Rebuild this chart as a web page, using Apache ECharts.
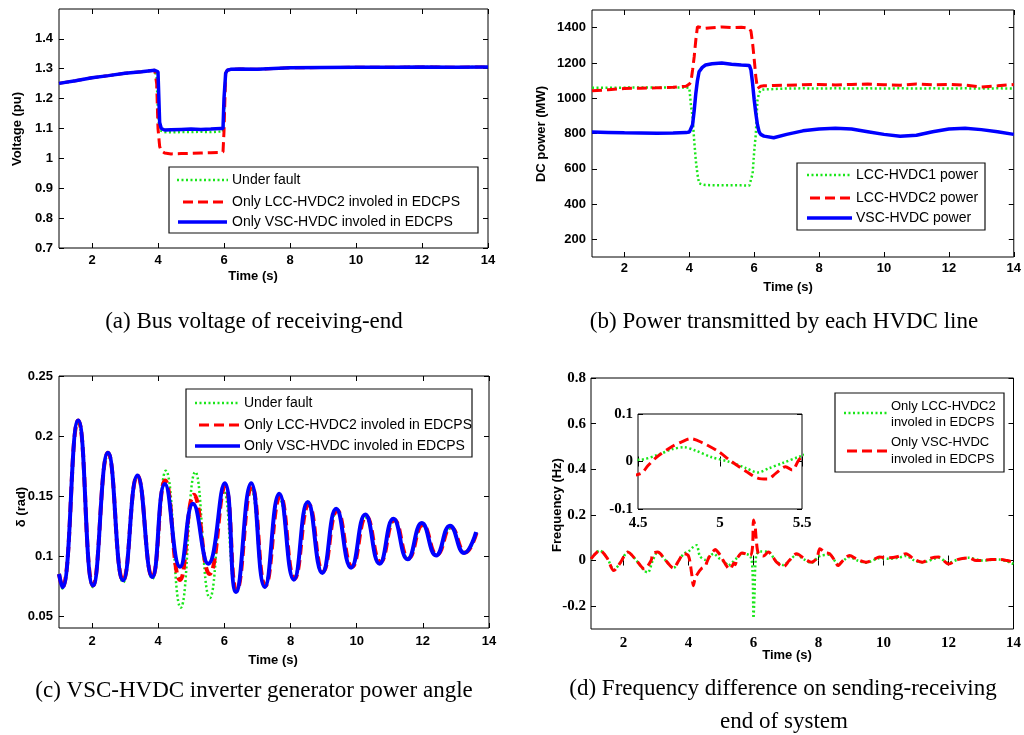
<!DOCTYPE html>
<html>
<head>
<meta charset="utf-8">
<script src="https://cdn.jsdelivr.net/npm/echarts@6/dist/echarts.min.js"></script>
<style>
html, body { margin: 0; padding: 0; background: #fff; }
#main { width: 1024px; height: 735px; }
</style>
</head>
<body>
<div id="main"></div>
<script>
// (a) bus voltage of receiving-end
var voltTime = [1, 1.5, 2, 2.5, 3, 3.5, 3.9, 3.96, 4.0, 4.05, 4.1, 4.2, 4.4, 4.7, 5.0, 5.3, 5.6, 5.9, 5.97, 6.0, 6.05, 6.1, 6.2, 6.5, 7, 7.5, 8, 9, 10, 11, 12, 13, 14];
var voltFault = [1.251, 1.26, 1.27, 1.277, 1.285, 1.29, 1.295, 1.27, 1.15, 1.095, 1.09, 1.088, 1.087, 1.088, 1.088, 1.089, 1.088, 1.09, 1.09, 1.15, 1.285, 1.295, 1.298, 1.299, 1.298, 1.301, 1.303, 1.304, 1.305, 1.305, 1.306, 1.305, 1.306];
var voltLcc2 = [1.251, 1.26, 1.27, 1.277, 1.285, 1.29, 1.295, 1.25, 1.10, 1.04, 1.025, 1.018, 1.015, 1.016, 1.017, 1.018, 1.019, 1.02, 1.022, 1.09, 1.285, 1.295, 1.298, 1.299, 1.298, 1.301, 1.303, 1.304, 1.305, 1.305, 1.306, 1.305, 1.306];
var voltVsc = [1.251, 1.26, 1.27, 1.277, 1.285, 1.29, 1.295, 1.296, 1.29, 1.12, 1.10, 1.095, 1.096, 1.097, 1.098, 1.097, 1.098, 1.10, 1.10, 1.20, 1.285, 1.295, 1.298, 1.299, 1.298, 1.301, 1.303, 1.304, 1.305, 1.305, 1.306, 1.305, 1.306];

// (b) power of each HVDC line
var powerTime = [1, 1.5, 2, 2.5, 3, 3.5, 3.9, 4.0, 4.05, 4.1, 4.15, 4.2, 4.25, 4.3, 4.4, 4.5, 4.7, 5.0, 5.3, 5.6, 5.85, 5.9, 5.95, 6.0, 6.05, 6.1, 6.15, 6.2, 6.3, 6.6, 7.0, 7.5, 8.0, 8.5, 9.0, 9.5, 10.0, 10.5, 11.0, 11.5, 12.0, 12.5, 13.0, 13.5, 14.0];
var powerLcc1 = [1060, 1060, 1060, 1061, 1060, 1061, 1061, 1058, 960, 894, 760, 647, 570, 518, 511, 508, 507, 506, 506, 506, 505, 508, 572, 700, 799, 989, 1030, 1045, 1050, 1052, 1055, 1056, 1055, 1056, 1055, 1056, 1055, 1056, 1055, 1056, 1055, 1056, 1055, 1056, 1055];
var powerLcc2 = [1042, 1048, 1055, 1057, 1059, 1062, 1068, 1080, 1093, 1160, 1235, 1330, 1406, 1410, 1398, 1396, 1400, 1404, 1400, 1402, 1396, 1380, 1311, 1220, 1121, 1055, 1062, 1068, 1070, 1072, 1074, 1076, 1078, 1075, 1078, 1080, 1076, 1074, 1080, 1076, 1078, 1074, 1064, 1070, 1078];
var powerVsc = [808, 806, 804, 803, 802, 803, 805, 808, 815, 850, 930, 1027, 1100, 1150, 1175, 1188, 1195, 1200, 1193, 1188, 1186, 1160, 1083, 990, 913, 850, 810, 795, 785, 776, 795, 815, 826, 830, 825, 810, 795, 784, 790, 810, 825, 830, 822, 810, 795];

// (c) inverter generator power angle (peaks and troughs)
var angleFaultTime = [1.0, 1.10, 1.58, 2.03, 2.48, 2.94, 3.37, 3.82, 4.23, 4.68, 5.12, 5.56, 5.98, 6.35, 6.80, 7.22, 7.66, 8.10, 8.53, 8.97, 9.40, 9.84, 10.27, 10.70, 11.13, 11.56, 11.99, 12.42, 12.84, 13.27, 13.63];
var angleFault = [0.085, 0.073, 0.211, 0.074, 0.184, 0.078, 0.166, 0.081, 0.171, 0.057, 0.170, 0.065, 0.155, 0.072, 0.156, 0.076, 0.148, 0.082, 0.142, 0.087, 0.137, 0.091, 0.132, 0.095, 0.129, 0.098, 0.125, 0.101, 0.123, 0.103, 0.119];
var angleLccTime = [1.0, 1.10, 1.58, 2.03, 2.48, 2.94, 3.37, 3.82, 4.21, 4.66, 5.08, 5.55, 6.02, 6.37, 6.83, 7.24, 7.69, 8.12, 8.55, 8.98, 9.41, 9.86, 10.29, 10.72, 11.14, 11.57, 12.0, 12.43, 12.85, 13.28, 13.63];
var angleLcc = [0.085, 0.074, 0.213, 0.0755, 0.186, 0.0797, 0.167, 0.0825, 0.163, 0.080, 0.151, 0.085, 0.158, 0.071, 0.158, 0.075, 0.150, 0.081, 0.143, 0.087, 0.138, 0.091, 0.133, 0.095, 0.130, 0.098, 0.126, 0.101, 0.124, 0.103, 0.12];
var angleVscTime = [1.0, 1.10, 1.58, 2.03, 2.48, 2.94, 3.37, 3.82, 4.20, 4.66, 5.05, 5.51, 6.01, 6.35, 6.81, 7.22, 7.66, 8.10, 8.52, 8.96, 9.38, 9.83, 10.26, 10.69, 11.11, 11.54, 11.97, 12.40, 12.82, 13.25, 13.61];
var angleVsc = [0.085, 0.074, 0.213, 0.0755, 0.186, 0.0797, 0.167, 0.0825, 0.160, 0.091, 0.1435, 0.0936, 0.1607, 0.070, 0.1607, 0.0742, 0.1518, 0.0803, 0.1449, 0.0859, 0.1393, 0.0903, 0.1346, 0.0936, 0.131, 0.0972, 0.1274, 0.1005, 0.1252, 0.1024, 0.12];

// (d) frequency difference sending-receiving
var freqLccTime = [1.0, 1.27, 1.5, 1.70, 1.9, 2.13, 2.4, 2.64, 2.75, 2.9, 3.05, 3.3, 3.54, 3.7, 3.86, 4.0, 4.15, 4.25, 4.35, 4.51, 4.62, 4.71, 4.78, 4.85, 4.95, 5.05, 5.16, 5.23, 5.30, 5.38, 5.49, 5.65, 5.9, 5.97, 6.0, 6.03, 6.08, 6.2, 6.46, 6.71, 6.92, 7.1, 7.33, 7.55, 7.78, 8.04, 8.34, 8.6, 8.95, 9.2, 9.46, 9.87, 10.18, 10.45, 10.69, 10.95, 11.2, 11.7, 12.0, 12.3, 12.62, 13.03, 13.54, 14.0];
var freqLcc = [0.007, 0.044, 0.01, -0.04, -0.01, 0.037, 0.0, -0.045, -0.052, 0.0, 0.037, 0.0, -0.033, 0.0, 0.03, 0.04, 0.06, 0.067, 0.02, 0.0035, 0.014, 0.026, 0.03, 0.023, 0.009, 0.0, -0.014, -0.023, -0.014, -0.0035, 0.011, 0.03, 0.02, -0.05, -0.252, -0.15, 0.02, 0.04, 0.037, -0.005, -0.02, 0.0, 0.025, 0.005, -0.01, 0.02, 0.025, -0.015, 0.015, 0.0, -0.01, 0.01, 0.008, 0.012, 0.02, 0.0, -0.008, 0.012, -0.01, 0.005, 0.012, 0.0, 0.005, -0.015];
var freqVscTime = [1.0, 1.27, 1.5, 1.70, 1.9, 2.13, 2.4, 2.64, 2.85, 2.9, 3.05, 3.3, 3.54, 3.7, 3.86, 4.0, 4.1, 4.15, 4.2, 4.27, 4.4, 4.52, 4.56, 4.62, 4.71, 4.77, 4.82, 4.89, 4.99, 5.07, 5.16, 5.23, 5.29, 5.34, 5.40, 5.44, 5.49, 5.65, 5.9, 5.97, 6.0, 6.05, 6.08, 6.15, 6.3, 6.46, 6.6, 6.71, 6.92, 7.1, 7.33, 7.55, 7.78, 7.95, 8.04, 8.2, 8.34, 8.5, 8.6, 8.75, 8.95, 9.2, 9.46, 9.7, 9.87, 10.18, 10.45, 10.69, 10.95, 11.2, 11.45, 11.7, 12.0, 12.3, 12.62, 12.85, 13.03, 13.3, 13.54, 13.8, 14.0];
var freqVsc = [0.007, 0.044, 0.01, -0.044, -0.01, 0.037, 0.0, -0.037, 0.0, 0.03, 0.037, 0.0, -0.033, 0.0, 0.03, 0.02, -0.06, -0.11, -0.08, -0.06, -0.035, -0.025, -0.009, 0.011, 0.032, 0.042, 0.048, 0.04, 0.021, 0.0, -0.021, -0.035, -0.037, -0.025, -0.011, -0.018, 0.007, 0.033, 0.022, 0.06, 0.178, 0.15, 0.10, 0.03, 0.02, 0.037, 0.015, -0.007, -0.027, 0.0, 0.03, 0.01, -0.007, 0.01, 0.052, 0.035, 0.03, 0.0, -0.022, 0.0, 0.022, 0.005, -0.007, 0.005, 0.015, 0.012, 0.018, 0.03, 0.005, -0.007, 0.01, 0.015, -0.015, 0.005, 0.012, 0.0, 0.0, 0.005, 0.005, 0.0, -0.007];

// tick labels
var timeTicks = [2, 4, 6, 8, 10, 12, 14];
var voltTicks = [0.7, 0.8, 0.9, 1, 1.1, 1.2, 1.3, 1.4];
var powerTicks = [200, 400, 600, 800, 1000, 1200, 1400];
var angleTicks = [0.05, 0.1, 0.15, 0.2, 0.25];
var freqTicks = [-0.2, 0, 0.2, 0.4, 0.6, 0.8];
var insetTimeTicks = [4.5, 5, 5.5];
var insetFreqTicks = [-0.1, 0, 0.1];

var GREEN = '#19e619', RED = '#ff0000', BLUE = '#0000ff';
var SANS = 'Liberation Sans', SERIF = 'Liberation Serif';

function pairs(xs, ys) {
	return xs.map(function(x, i) { return [x, ys[i]]; });
}

var grids = [
	{left: 59, top: 9, width: 429, height: 239},
	{left: 592, top: 10, width: 425, height: 247},
	{left: 59, top: 376, width: 430, height: 252},
	{left: 591, top: 378, width: 426, height: 251},
	{left: 638, top: 414, width: 164, height: 95}
];
grids.forEach(function(g) {
	g.show = true;
	g.borderColor = '#000';
	g.borderWidth = 1;
	g.backgroundColor = '#fff';
});

var xAxes = [], yAxes = [];

// one labelled axis + one mirror axis with inside ticks only (matlab box)
function addAxes(list, dim, g, min, max, ticks, font, size, margin) {
	var pos = dim == 'x' ? ['bottom', 'top'] : ['left', 'right'];
	pos.forEach(function(p, k) {
		list.push({
			type: 'value', gridIndex: g, min: min, max: max, position: p,
			axisLine: {show: false},
			splitLine: {show: false},
			axisTick: {inside: true, length: 5, customValues: ticks, lineStyle: {color: '#000', width: 1}},
			axisLabel: {
				show: k == 0, customValues: ticks, color: '#000', margin: margin,
				fontFamily: font, fontWeight: 'bold', fontSize: size,
				formatter: function(v) { return String(v); }
			}
		});
	});
}

addAxes(xAxes, 'x', 0, 1, 14, timeTicks, SANS, 13, 6);
addAxes(yAxes, 'y', 0, 0.7, 1.5, voltTicks, SANS, 13, 6);
addAxes(xAxes, 'x', 1, 1, 14, timeTicks, SANS, 13, 5);
addAxes(yAxes, 'y', 1, 100, 1500, powerTicks, SANS, 13, 6);
addAxes(xAxes, 'x', 2, 1, 14, timeTicks, SANS, 13, 7);
addAxes(yAxes, 'y', 2, 0.04, 0.25, angleTicks, SANS, 13, 6);
addAxes(xAxes, 'x', 3, 1, 14, timeTicks, SERIF, 15, 7);
addAxes(yAxes, 'y', 3, -0.3, 0.8, freqTicks, SERIF, 15, 5);
addAxes(xAxes, 'x', 4, 4.5, 5.5, insetTimeTicks, SERIF, 15, 7);
addAxes(yAxes, 'y', 4, -0.1, 0.1, insetFreqTicks, SERIF, 15, 5);

var styles = {
	green: {color: GREEN, width: 2.5, type: [2, 2.5]},
	red: {color: RED, width: 3, type: [10, 5]},
	blue: {color: BLUE, width: 3.5, type: 'solid'}
};

function line(name, data, g, st, extra) {
	var s = {
		name: name, type: 'line', xAxisIndex: 2 * g, yAxisIndex: 2 * g,
		data: data, showSymbol: false, symbol: 'none',
		lineStyle: {color: st.color, width: st.width, type: st.type},
		itemStyle: {color: st.color}
	};
	for (var k in extra) s[k] = extra[k];
	return s;
}

var series = [
	line('Under fault', pairs(voltTime, voltFault), 0, styles.green),
	line('Only LCC-HVDC2 involed in EDCPS', pairs(voltTime, voltLcc2), 0, styles.red),
	line('Only VSC-HVDC involed in EDCPS', pairs(voltTime, voltVsc), 0, styles.blue),

	line('LCC-HVDC1 power', pairs(powerTime, powerLcc1), 1, styles.green),
	line('LCC-HVDC2 power', pairs(powerTime, powerLcc2), 1, styles.red),
	line('VSC-HVDC power', pairs(powerTime, powerVsc), 1, styles.blue),

	line('Under fault', pairs(angleFaultTime, angleFault), 2, styles.green, {smooth: 0.5}),
	line('Only LCC-HVDC2 involed in EDCPS', pairs(angleLccTime, angleLcc), 2, {color: RED, width: 4, type: [10, 5]}, {smooth: 0.5}),
	line('Only VSC-HVDC involed in EDCPS', pairs(angleVscTime, angleVsc), 2, {color: BLUE, width: 4, type: 'solid'}, {smooth: 0.5}),

	line('Only LCC-HVDC2 involed in EDCPS', pairs(freqLccTime, freqLcc), 3, styles.green, {smooth: 0.3}),
	line('Only VSC-HVDC involed in EDCPS', pairs(freqVscTime, freqVsc), 3, styles.red, {smooth: 0.3}),

	// inset: same data zoomed into 4.5 - 5.5 s
	line('inset LCC', pairs(freqLccTime, freqLcc), 4, styles.green, {smooth: 0.3, z: 5}),
	line('inset VSC', pairs(freqVscTime, freqVsc), 4, styles.red, {smooth: 0.3, z: 5})
];

// ---- texts, legends, captions ----
var graphics = [];

function txt(s, x, y, font, rot, align) {
	graphics.push({
		type: 'text', x: x, y: y, rotation: rot || 0, z: 100,
		style: {
			text: s, x: 0, y: 0, fill: '#000', font: font,
			align: align || 'center', verticalAlign: 'middle',
			textAlign: align || 'center', textVerticalAlign: 'middle'
		}
	});
}

function legendBox(x, y, w, h, items, font) {
	graphics.push({
		type: 'rect', z: 90,
		shape: {x: x, y: y, width: w, height: h},
		style: {fill: '#fff', stroke: '#111', lineWidth: 1.2}
	});
	items.forEach(function(it) {
		graphics.push({
			type: 'line', z: 95,
			shape: {x1: it.x1, y1: it.y, x2: it.x2, y2: it.y},
			style: {stroke: it.st.color, lineWidth: it.st.width, lineDash: it.st.type == 'solid' ? null : it.st.type}
		});
		it.text.forEach(function(t, i) {
			txt(t, it.tx, it.ty[i], font, 0, 'left');
		});
	});
}

var boldSans = 'bold 13px "' + SANS + '"';
var capFont = '23px "' + SERIF + '"';

// axis titles
txt('Voltage (pu)', 17, 129, boldSans, Math.PI / 2);
txt('Time (s)', 253, 276, boldSans);
txt('DC power (MW)', 541, 134, boldSans, Math.PI / 2);
txt('Time (s)', 788, 287, boldSans);
txt('\u03b4 (rad)', 21, 507, boldSans, Math.PI / 2);
txt('Time (s)', 273, 660, boldSans);
txt('Frequency (Hz)', 557, 505, boldSans, Math.PI / 2);
txt('Time (s)', 787, 655, boldSans);

// captions
txt('(a) Bus voltage of receiving-end', 254, 322, capFont);
txt('(b) Power transmitted by each HVDC line', 784, 322, capFont);
txt('(c) VSC-HVDC inverter generator power angle', 254, 691, capFont);
txt('(d) Frequency difference on sending-receiving', 783, 689, capFont);
txt('end of system', 784, 722, capFont);

var legFont = '14px "' + SANS + '"';
legendBox(169, 167, 309, 66, [
	{st: styles.green, x1: 177, x2: 228, y: 180, tx: 232, ty: [180], text: ['Under fault']},
	{st: styles.red, x1: 183, x2: 227, y: 202, tx: 232, ty: [202], text: ['Only LCC-HVDC2 involed in EDCPS']},
	{st: styles.blue, x1: 178, x2: 227, y: 222, tx: 232, ty: [222], text: ['Only VSC-HVDC involed in EDCPS']}
], legFont);

legendBox(797, 163, 188, 67, [
	{st: styles.green, x1: 807, x2: 852, y: 175, tx: 856, ty: [175], text: ['LCC-HVDC1 power']},
	{st: styles.red, x1: 810, x2: 852, y: 198, tx: 856, ty: [198], text: ['LCC-HVDC2 power']},
	{st: styles.blue, x1: 807, x2: 852, y: 218, tx: 856, ty: [218], text: ['VSC-HVDC power']}
], legFont);

legendBox(186, 389, 286, 68, [
	{st: styles.green, x1: 195, x2: 240, y: 403, tx: 244, ty: [403], text: ['Under fault']},
	{st: styles.red, x1: 199, x2: 240, y: 425, tx: 244, ty: [425], text: ['Only LCC-HVDC2 involed in EDCPS']},
	{st: styles.blue, x1: 195, x2: 240, y: 446, tx: 244, ty: [446], text: ['Only VSC-HVDC involed in EDCPS']}
], legFont);

legendBox(835, 393, 169, 79, [
	{st: styles.green, x1: 844, x2: 889, y: 413, tx: 891, ty: [406, 422], text: ['Only LCC-HVDC2', 'involed in EDCPS']},
	{st: styles.red, x1: 847, x2: 889, y: 451, tx: 891, ty: [442, 459], text: ['Only VSC-HVDC', 'involed in EDCPS']}
], '13px "' + SANS + '"');

var myChart = echarts.init(document.getElementById('main'));
var option = {
	animation: false,
	backgroundColor: '#fff',
	grid: grids,
	xAxis: xAxes,
	yAxis: yAxes,
	series: series,
	graphic: graphics
};
myChart.setOption(option);
</script>
</body>
</html>
